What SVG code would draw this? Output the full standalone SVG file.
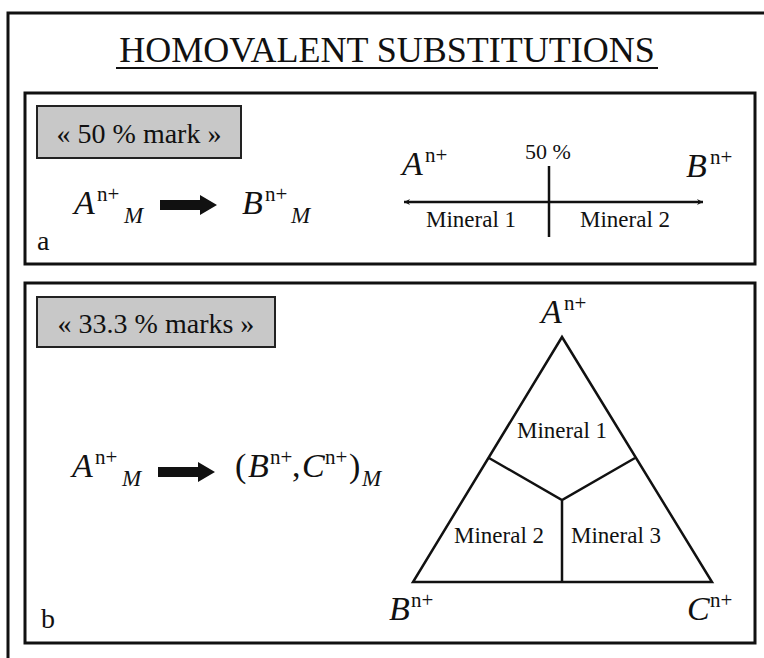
<svg xmlns="http://www.w3.org/2000/svg" width="764" height="658" viewBox="0 0 764 658">
<style>
  text { font-family: "Liberation Serif", "Times New Roman", serif; fill: #111; }
  .it { font-style: italic; }
  .frame { fill: none; stroke: #111; stroke-width: 3; }
  .tag { fill: #c8c8c8; stroke: #222; stroke-width: 2; }
  .ln { fill: none; stroke: #111; stroke-width: 2.5; }
  .big { font-size: 34px; }
  .sup { font-size: 21px; }
  .sub { font-size: 23px; font-style: italic; }
  .min { font-size: 23px; }
</style>
<defs>
  <marker id="tip" viewBox="0 0 8 8" refX="6" refY="4" markerWidth="8" markerHeight="8" markerUnits="userSpaceOnUse" orient="auto-start-reverse">
    <path d="M0,1 L6,4 L0,7 L2,4 Z" fill="#111"/>
  </marker>
  <path id="fat" d="M0,-5 L40,-5 L40,-10 L57,0 L40,10 L40,5 L0,5 Z" fill="#111"/>
</defs>
<rect width="764" height="658" fill="#fff"/>
<g id="outer-frame">
  <path class="frame" d="M8,660 L8,13 L770,13"/>
</g>
<g id="title">
  <text x="387" y="62" font-size="36" text-anchor="middle">HOMOVALENT SUBSTITUTIONS</text>
  <line x1="116" y1="68" x2="658" y2="68" stroke="#111" stroke-width="2"/>
</g>

<g id="panel-a">
  <rect class="frame" x="25" y="93" width="730" height="171"/>
  <g id="tag-a">
    <rect class="tag" x="37" y="106" width="204" height="52"/>
    <text x="139" y="143" font-size="28" text-anchor="middle">« 50 % mark »</text>
  </g>
  <g id="eq-a">
    <text class="big it" x="74" y="214">A</text>
    <text class="sup" x="97" y="201">n+</text>
    <text class="sub" x="124" y="223">M</text>
    <use href="#fat" x="160" y="205"/>
    <text class="big it" x="242" y="214">B</text>
    <text class="sup" x="265" y="201">n+</text>
    <text class="sub" x="291" y="223">M</text>
  </g>
  <text x="37" y="250" font-size="28">a</text>
  <g id="axis-a">
    <text class="big it" x="402" y="175">A</text>
    <text class="sup" x="425" y="162">n+</text>
    <text class="big it" x="686" y="177">B</text>
    <text class="sup" x="710" y="164">n+</text>
    <text x="548" y="159" font-size="22" text-anchor="middle">50 %</text>
    <line class="ln" x1="404" y1="202" x2="703" y2="202" marker-start="url(#tip)" marker-end="url(#tip)" stroke-width="2"/>
    <line class="ln" x1="549" y1="166" x2="549" y2="237"/>
    <text class="min" x="471" y="227" text-anchor="middle">Mineral 1</text>
    <text class="min" x="625" y="227" text-anchor="middle">Mineral 2</text>
  </g>
</g>

<g id="panel-b">
  <rect class="frame" x="25" y="283" width="730" height="360"/>
  <g id="tag-b">
    <rect class="tag" x="37" y="297" width="238" height="50"/>
    <text x="156" y="333" font-size="28" text-anchor="middle">« 33.3 % marks »</text>
  </g>
  <g id="eq-b">
    <text class="big it" x="72" y="477">A</text>
    <text class="sup" x="95" y="464">n+</text>
    <text class="sub" x="122" y="486">M</text>
    <use href="#fat" x="158" y="472"/>
    <text class="big" x="235" y="477">(</text>
    <text class="big it" x="248" y="477">B</text>
    <text class="sup" x="270" y="464">n+</text>
    <text class="big" x="292" y="477">,</text>
    <text class="big it" x="302" y="477">C</text>
    <text class="sup" x="325" y="464">n+</text>
    <text class="big" x="349" y="477">)</text>
    <text class="sub" x="362" y="486">M</text>
  </g>
  <text x="41" y="628" font-size="28">b</text>
  <g id="ternary">
    <path class="ln" d="M562,337 L413,582 L712,582 Z"/>
    <path class="ln" d="M489,458 L562,500 L635,458 M562,500 L562,582"/>
    <text class="big it" x="541" y="323">A</text>
    <text class="sup" x="564" y="310">n+</text>
    <text class="big it" x="389" y="620">B</text>
    <text class="sup" x="411" y="607">n+</text>
    <text class="big it" x="687" y="620">C</text>
    <text class="sup" x="710" y="607">n+</text>
    <text class="min" x="562" y="438" text-anchor="middle">Mineral 1</text>
    <text class="min" x="499" y="543" text-anchor="middle">Mineral 2</text>
    <text class="min" x="616" y="543" text-anchor="middle">Mineral 3</text>
  </g>
</g>
</svg>
